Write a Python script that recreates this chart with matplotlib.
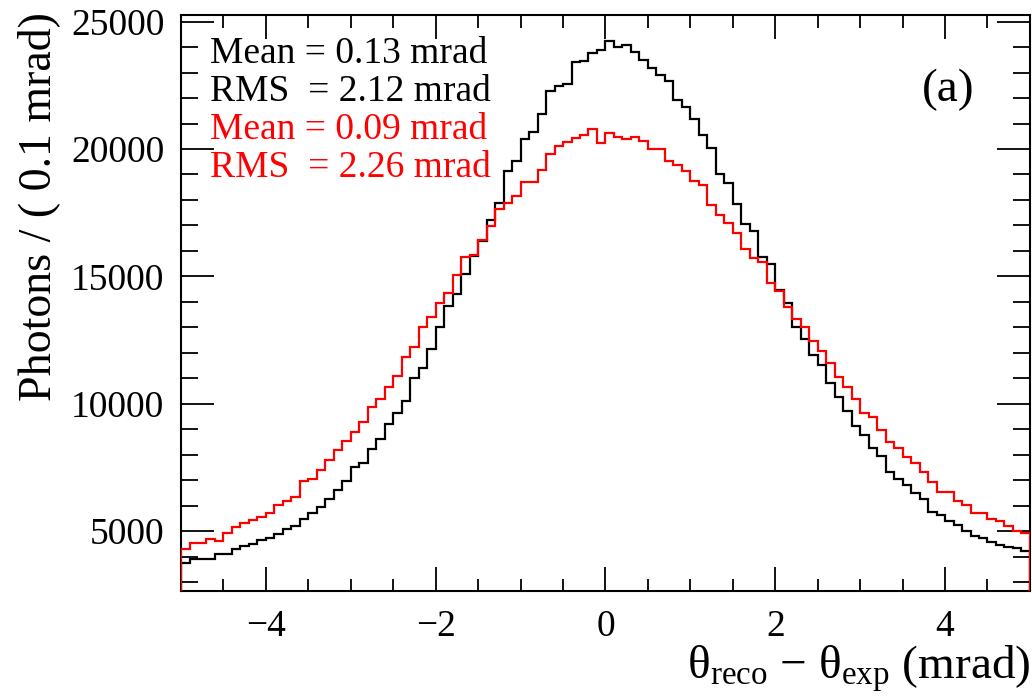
import numpy as np
import matplotlib
matplotlib.use("Agg")
import matplotlib.pyplot as plt
from matplotlib.ticker import MultipleLocator

# bin contents, 100 bins of 0.1 mrad from -5 to 5
bin_edges = np.linspace(-5, 5, 101)

black_counts = [
    3750, 3905, 3905, 3905, 4085, 4085, 4295, 4415, 4515, 4640,
    4740, 4870, 5090, 5195, 5480, 5705, 5960, 6280, 6615, 6960,
    7505, 7685, 8215, 8605, 9225, 9635, 10090, 11005, 11400, 12150,
    13000, 13820, 14290, 15090, 15800, 16390, 17200, 17870, 19150, 19520,
    20380, 20650, 21370, 22280, 22480, 22560, 23400, 23465, 23760, 23870,
    24250, 24020, 24100, 23790, 23485, 23185, 22920, 22680, 21910, 21650,
    21195, 20565, 20020, 19035, 18657, 17830, 17050, 16790, 15770, 15470,
    14485, 13970, 13000, 12540, 11920, 11527, 10834, 10258, 9735, 9134,
    8780, 8257, 7957, 7342, 7041, 6819, 6492, 6256, 5772, 5641,
    5419, 5249, 4988, 4817, 4726, 4595, 4464, 4373, 4334, 4220,
]

red_counts = [
    4300, 4540, 4540, 4700, 4600, 4920, 5180, 5310, 5430, 5570,
    5720, 6020, 6190, 6340, 6950, 7030, 7420, 7810, 8200, 8520,
    8910, 9300, 9860, 10170, 10650, 11110, 11830, 12220, 13000, 13400,
    13960, 14350, 15060, 15780, 15850, 16440, 16990, 17650, 17870, 18140,
    18720, 18720, 19170, 19800, 20100, 20290, 20420, 20550, 20780, 20230,
    20640, 20490, 20400, 20470, 20325, 20000, 20000, 19540, 19380, 19130,
    18755, 18580, 17795, 17415, 17088, 16696, 16081, 15741, 15550, 14733,
    14420, 13800, 13333, 13000, 12460, 12065, 11593, 11043, 10651, 10180,
    9657, 9474, 8977, 8519, 8257, 7904, 7669, 7342, 6949, 6557,
    6557, 6165, 6034, 5707, 5707, 5471, 5380, 5210, 4988, 4948,
]

stats_black = ["Mean = 0.13 mrad", "RMS  = 2.12 mrad"]
stats_red = ["Mean = 0.09 mrad", "RMS  = 2.26 mrad"]

plt.rcParams['font.family'] = ['Liberation Serif', 'DejaVu Serif']
plt.rcParams['mathtext.fontset'] = 'custom'
plt.rcParams['mathtext.rm'] = 'Liberation Serif'
plt.rcParams['mathtext.it'] = 'Liberation Serif'

fig = plt.figure(figsize=(10.32, 6.97), dpi=100)
ax = fig.add_axes([0.1754, 0.152, 0.8226, 0.8265])

ax.stairs(black_counts, bin_edges, baseline=0, color='black', lw=1.6, zorder=3)
ax.stairs(red_counts, bin_edges, baseline=0, color='red', lw=1.6, zorder=4)

ax.set_xlim(-5, 5)
ax.set_ylim(2650, 25260)

ax.xaxis.set_major_locator(MultipleLocator(2))
ax.xaxis.set_minor_locator(MultipleLocator(0.5))
ax.yaxis.set_major_locator(MultipleLocator(5000))
ax.yaxis.set_minor_locator(MultipleLocator(1000))

ax.tick_params(axis='both', which='both', direction='in', top=True, right=True,
               width=1.3, labelsize=27)
ax.tick_params(axis='x', which='major', length=17, pad=13)
ax.tick_params(axis='x', which='minor', length=9)
ax.tick_params(axis='y', which='major', length=24, pad=12)
ax.tick_params(axis='y', which='minor', length=12)
for s in ax.spines.values():
    s.set_linewidth(1.5)

ax.set_ylabel("Photons / ( 0.1 mrad)", fontsize=33)
ax.yaxis.set_label_coords(-0.142, 0.667)
ax.set_xlabel("θ$_{\\rm reco}$ − θ$_{\\rm exp}$ (mrad)", fontsize=34, loc='right', labelpad=0)

y0 = 0.963
dy = 0.066
lines = [(t, 'black') for t in stats_black] + [(t, 'red') for t in stats_red]
for i, (t, c) in enumerate(lines):
    ax.text(0.034, y0 - i * dy, t, transform=ax.transAxes, color=c,
            fontsize=27, va='top', ha='left')

ax.text(0.935, 0.87, "(a)", transform=ax.transAxes, fontsize=34,
        ha='right', va='center')

fig.savefig("out.png", dpi=100)
